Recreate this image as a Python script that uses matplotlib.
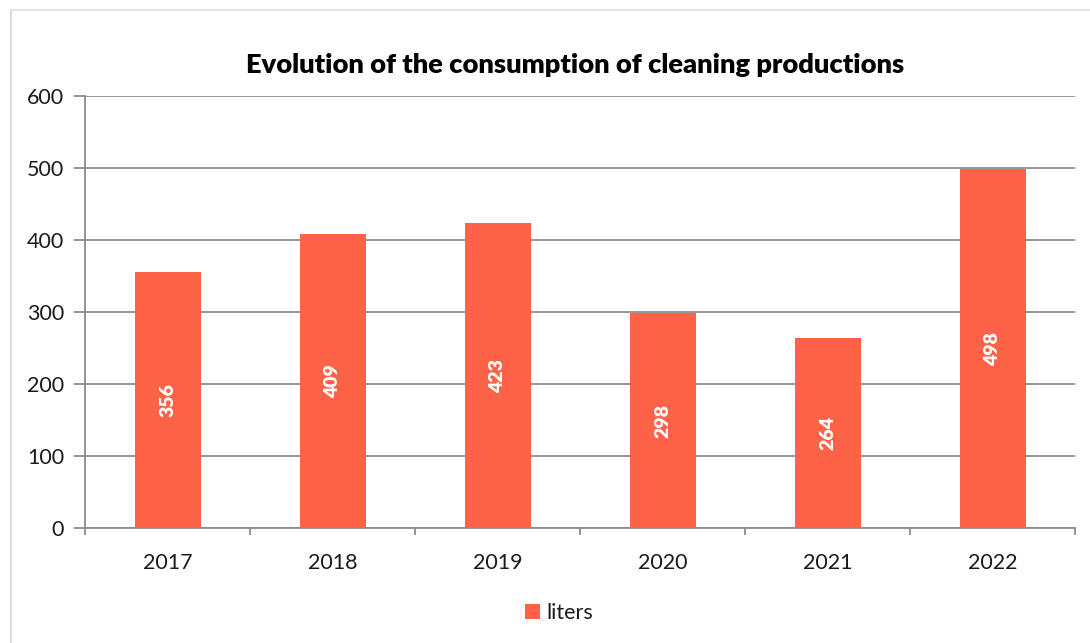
import matplotlib
matplotlib.use("Agg")
import matplotlib.pyplot as plt
from matplotlib.lines import Line2D

# data
years = ["2017", "2018", "2019", "2020", "2021", "2022"]
liters = [356, 409, 423, 298, 264, 498]

BAR_COLOR = "#FF6347"
GRID_COLOR = "#8c8c8c"

plt.rcParams["font.family"] = ["Lato", "DejaVu Sans"]

fig = plt.figure(figsize=(10.90, 6.43), dpi=100)
fig.patch.set_facecolor("white")

# partial frame of the screenshot (top + left edges)
fig.add_artist(Line2D([11 / 1090, 11 / 1090], [0, 1 - 10 / 643],
                      transform=fig.transFigure, color="#dcdcd4", lw=1.5))
fig.add_artist(Line2D([11 / 1090, 1], [1 - 10 / 643, 1 - 10 / 643],
                      transform=fig.transFigure, color="#e6e6dc", lw=1.5))

ax = fig.add_axes([85 / 1090, 1 - 528 / 643, 990 / 1090, 432 / 643])

x = range(len(years))
bars = ax.bar(x, liters, width=0.4, color=BAR_COLOR, zorder=3)

for xi, v in zip(x, liters):
    ax.text(xi, v / 2, str(v), rotation=90, ha="center", va="center",
            color="white", fontsize=14, fontweight="heavy", zorder=4)

ax.set_xlim(-0.5, len(years) - 0.5)
ax.set_ylim(0, 600)
ax.set_yticks(range(0, 601, 100))
ax.yaxis.grid(True, color=GRID_COLOR, lw=1.3, zorder=0)

# category labels centred, tick marks on category boundaries
ax.set_xticks([i - 0.5 for i in range(len(years) + 1)])
ax.set_xticklabels([])
ax.set_xticks(list(x), minor=True)
ax.set_xticklabels(years, minor=True)
ax.tick_params(axis="x", which="minor", length=0, pad=18, labelsize=15.5,
               labelcolor="#1a1a1a")
ax.tick_params(axis="x", which="major", length=5, width=1.3, color=GRID_COLOR)
ax.tick_params(axis="y", length=8, width=1.3, color=GRID_COLOR,
               labelsize=15.5, pad=7, labelcolor="#1a1a1a")

for side in ["top", "right"]:
    ax.spines[side].set_visible(False)
for side in ["left", "bottom"]:
    ax.spines[side].set_color(GRID_COLOR)
    ax.spines[side].set_linewidth(1.3)

fig.text(575 / 1090, 1 - 65 / 643,
         "Evolution of the consumption of cleaning productions",
         ha="center", va="center", fontsize=19.6, fontweight="heavy")

leg = fig.legend([bars], ["liters"], loc="center",
                 bbox_to_anchor=(559 / 1090, 1 - 613 / 643),
                 frameon=False, fontsize=15.5, handlelength=0.7,
                 handleheight=0.7, handletextpad=0.3)
for t in leg.get_texts():
    t.set_color("#1a1a1a")

fig.savefig("out.png", dpi=100, facecolor="white")
